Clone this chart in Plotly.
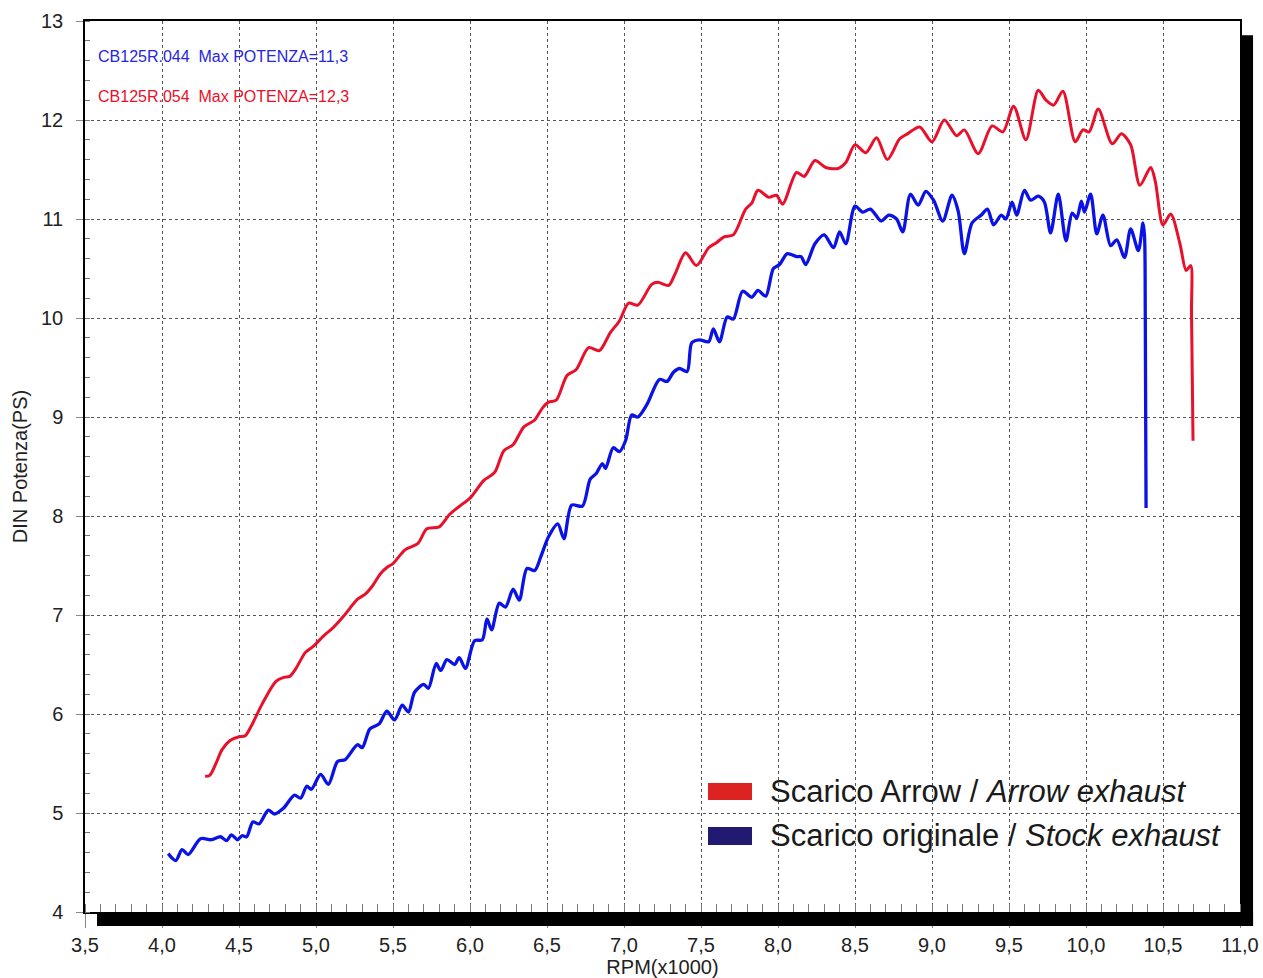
import plotly.graph_objects as go

# ---- data (RPM x1000, DIN PS) ----
arrow_rpm = [4.28, 4.31, 4.35, 4.39, 4.44, 4.50, 4.54, 4.58, 4.65, 4.74, 4.79, 4.83, 4.87, 4.93, 4.98,
             5.05, 5.11, 5.18, 5.27, 5.32, 5.36, 5.42, 5.46, 5.50, 5.58, 5.66, 5.72, 5.80, 5.87, 5.95,
             6.00, 6.09, 6.16, 6.22, 6.28, 6.35, 6.42, 6.47, 6.51, 6.56, 6.63, 6.69, 6.77, 6.84, 6.91,
             6.97, 7.03, 7.09, 7.18, 7.22, 7.29, 7.33, 7.40, 7.47, 7.55, 7.60, 7.65, 7.71, 7.79, 7.83,
             7.87, 7.94, 7.99, 8.03, 8.12, 8.17, 8.24, 8.31, 8.39, 8.44, 8.50, 8.57, 8.64, 8.71, 8.79,
             8.84, 8.92, 9.00, 9.08, 9.16, 9.21, 9.30, 9.39, 9.46, 9.53, 9.61, 9.69, 9.74, 9.79, 9.85,
             9.93, 9.98, 10.02, 10.08, 10.17, 10.23, 10.29, 10.35, 10.42, 10.45, 10.50, 10.55, 10.61,
             10.65, 10.68, 10.685, 10.69, 10.695]
arrow_ps = [5.37, 5.38, 5.50, 5.64, 5.73, 5.77, 5.78, 5.88, 6.10, 6.33, 6.37, 6.38, 6.46, 6.62, 6.68,
            6.79, 6.87, 6.99, 7.16, 7.21, 7.28, 7.42, 7.48, 7.52, 7.66, 7.72, 7.87, 7.89, 8.02, 8.12,
            8.18, 8.36, 8.44, 8.66, 8.72, 8.90, 8.97, 9.09, 9.15, 9.17, 9.42, 9.48, 9.70, 9.67, 9.85,
            9.97, 10.15, 10.13, 10.34, 10.36, 10.33, 10.44, 10.66, 10.53, 10.71, 10.76, 10.82, 10.84, 11.10, 11.16,
            11.29, 11.22, 11.24, 11.15, 11.47, 11.43, 11.59, 11.52, 11.51, 11.57, 11.75, 11.67, 11.82, 11.60, 11.81,
            11.86, 11.93, 11.78, 12.00, 11.84, 11.90, 11.66, 11.94, 11.88, 12.14, 11.80, 12.30, 12.20, 12.15, 12.29,
            11.78, 11.90, 11.88, 12.11, 11.76, 11.86, 11.75, 11.34, 11.52, 11.38, 10.94, 11.05, 10.75,
            10.48, 10.53, 10.06, 9.42, 8.76]

stock_rpm = [4.04, 4.09, 4.13, 4.17, 4.25, 4.32, 4.38, 4.42, 4.45, 4.49, 4.52, 4.55, 4.59, 4.63, 4.69,
             4.73, 4.79, 4.86, 4.90, 4.94, 4.97, 5.03, 5.08, 5.14, 5.19, 5.27, 5.30, 5.35, 5.41, 5.46,
             5.51, 5.56, 5.60, 5.64, 5.70, 5.73, 5.78, 5.81, 5.85, 5.90, 5.93, 5.97, 6.03, 6.08, 6.11,
             6.14, 6.19, 6.23, 6.28, 6.32, 6.37, 6.42, 6.46, 6.51, 6.57, 6.61, 6.66, 6.73, 6.78, 6.82,
             6.86, 6.88, 6.93, 6.97, 7.01, 7.05, 7.09, 7.15, 7.23, 7.28, 7.32, 7.36, 7.41, 7.44, 7.49,
             7.55, 7.58, 7.62, 7.67, 7.71, 7.77, 7.83, 7.87, 7.92, 7.97, 8.01, 8.06, 8.12, 8.15, 8.18,
             8.24, 8.30, 8.36, 8.40, 8.44, 8.50, 8.55, 8.60, 8.67, 8.72, 8.77, 8.81, 8.86, 8.91, 8.96,
             9.01, 9.07, 9.13, 9.17, 9.21, 9.26, 9.32, 9.36, 9.40, 9.45, 9.48, 9.52, 9.55, 9.60, 9.64,
             9.69, 9.73, 9.77, 9.82, 9.87, 9.91, 9.94, 9.97, 9.99, 10.03, 10.07, 10.11, 10.16, 10.20,
             10.25, 10.29, 10.34, 10.37, 10.38, 10.385, 10.39]
stock_ps = [4.59, 4.52, 4.63, 4.58, 4.74, 4.73, 4.76, 4.72, 4.78, 4.73, 4.77, 4.76, 4.91, 4.89, 5.03,
            4.99, 5.05, 5.18, 5.15, 5.27, 5.24, 5.39, 5.29, 5.52, 5.54, 5.69, 5.66, 5.85, 5.90, 6.03,
            5.94, 6.09, 6.02, 6.22, 6.30, 6.26, 6.51, 6.44, 6.55, 6.50, 6.57, 6.46, 6.74, 6.75, 6.96,
            6.85, 7.12, 7.08, 7.26, 7.15, 7.47, 7.45, 7.59, 7.79, 7.92, 7.77, 8.11, 8.10, 8.37, 8.43,
            8.53, 8.48, 8.69, 8.65, 8.76, 9.02, 9.00, 9.13, 9.38, 9.36, 9.45, 9.49, 9.46, 9.75, 9.78,
            9.76, 9.89, 9.76, 10.01, 9.99, 10.27, 10.21, 10.28, 10.22, 10.50, 10.54, 10.65, 10.62, 10.62, 10.54,
            10.75, 10.84, 10.71, 10.87, 10.75, 11.13, 11.07, 11.10, 10.98, 11.04, 11.00, 10.87, 11.25, 11.14, 11.28,
            11.19, 10.98, 11.24, 11.08, 10.65, 10.96, 11.04, 11.10, 10.94, 11.04, 11.00, 11.17, 11.04, 11.29, 11.19,
            11.23, 11.17, 10.86, 11.25, 10.78, 11.06, 11.01, 11.18, 11.07, 11.25, 10.85, 11.04, 10.73, 10.79,
            10.61, 10.90, 10.68, 10.96, 10.83, 10.01, 8.08]

x_ticks = [3.5, 4.0, 4.5, 5.0, 5.5, 6.0, 6.5, 7.0, 7.5, 8.0, 8.5, 9.0, 9.5, 10.0, 10.5, 11.0]
y_ticks = [4, 5, 6, 7, 8, 9, 10, 11, 12, 13]

legend_labels = ["Scarico Arrow / <i>Arrow exhaust</i>", "Scarico originale / <i>Stock exhaust</i>"]
info_labels = ["CB125R.044  Max POTENZA=11,3", "CB125R.054  Max POTENZA=12,3"]

RED = "#e8102a"
BLUE = "#0a12e6"
FONT = "Arial, 'Liberation Sans', sans-serif"

fig = go.Figure()
fig.add_trace(go.Scatter(x=arrow_rpm, y=arrow_ps, mode="lines", name="Scarico Arrow / Arrow exhaust",
                         line=dict(color=RED, width=3, shape="spline", smoothing=0.8), showlegend=False))
fig.add_trace(go.Scatter(x=stock_rpm, y=stock_ps, mode="lines", name="Scarico originale / Stock exhaust",
                         line=dict(color=BLUE, width=3.3, shape="spline", smoothing=0.8), showlegend=False))

axis_common = dict(
    showgrid=True, gridcolor="#555555", gridwidth=1, griddash="dot",
    showline=True, linecolor="black", linewidth=1.5, mirror=True,
    zeroline=False, ticks="outside", tickcolor="#888888", tickwidth=1,
    tickfont=dict(family=FONT, size=20, color="#222222"),
)

fig.update_layout(
    width=1263, height=978,
    margin=dict(l=85, r=23, t=21, b=66, autoexpand=False),
    paper_bgcolor="white", plot_bgcolor="white",
    separators=",.",
    font=dict(family=FONT, color="#222222"),
    xaxis=dict(axis_common, range=[3.5, 11.0], tickvals=x_ticks, tickformat=".1f", ticklen=14,
               title=dict(text="RPM(x1000)", font=dict(family=FONT, size=20, color="#222222"), standoff=2),
               minor=dict(ticks="inside", dtick=0.1, ticklen=8, tickcolor="#777777", tickwidth=1, showgrid=False)),
    yaxis=dict(axis_common, range=[4, 13], tickvals=y_ticks, ticklen=7, ticklabelstandoff=9,
               title=dict(text="DIN Potenza(PS)", font=dict(family=FONT, size=20, color="#222222"), standoff=8),
               minor=dict(ticks="inside", dtick=0.2, ticklen=5, tickcolor="#777777", tickwidth=1, showgrid=False)),
)

# drop shadow (right and bottom black bars)
fig.add_shape(type="rect", xref="paper", yref="paper", x0=1.0009, x1=1.0113, y0=-0.0157, y1=0.984,
              fillcolor="black", line=dict(width=0), layer="above")
fig.add_shape(type="rect", xref="paper", yref="paper", x0=0.0104, x1=1.0113, y0=-0.0157, y1=0.0,
              fillcolor="black", line=dict(width=0), layer="above")

# info annotations
fig.add_annotation(xref="paper", yref="paper", x=0.0095, y=0.9607, xanchor="left", yanchor="middle",
                   text=info_labels[0], showarrow=False, font=dict(family=FONT, size=16, color="#2626e0"))
fig.add_annotation(xref="paper", yref="paper", x=0.0095, y=0.9158, xanchor="left", yanchor="middle",
                   text=info_labels[1], showarrow=False, font=dict(family=FONT, size=16, color=RED))

# manual legend
legend_colors = ["#dd2222", "#211a70"]
legend_y = [(0.1257, 0.1448, 0.1358), (0.0752, 0.0954, 0.0853)]
for lab, col, (y0, y1, yc) in zip(legend_labels, legend_colors, legend_y):
    fig.add_shape(type="rect", xref="paper", yref="paper", x0=0.5394, x1=0.5775, y0=y0, y1=y1,
                  fillcolor=col, line=dict(width=0), layer="above")
    fig.add_annotation(xref="paper", yref="paper", x=0.5913, y=yc, xanchor="left", yanchor="middle",
                       text=lab, showarrow=False, font=dict(family=FONT, size=31, color="#1a1a1a"))

fig.write_html("out.html", config={"displayModeBar": False},
               post_script="document.body.style.margin='0';document.body.style.overflow='hidden';")
